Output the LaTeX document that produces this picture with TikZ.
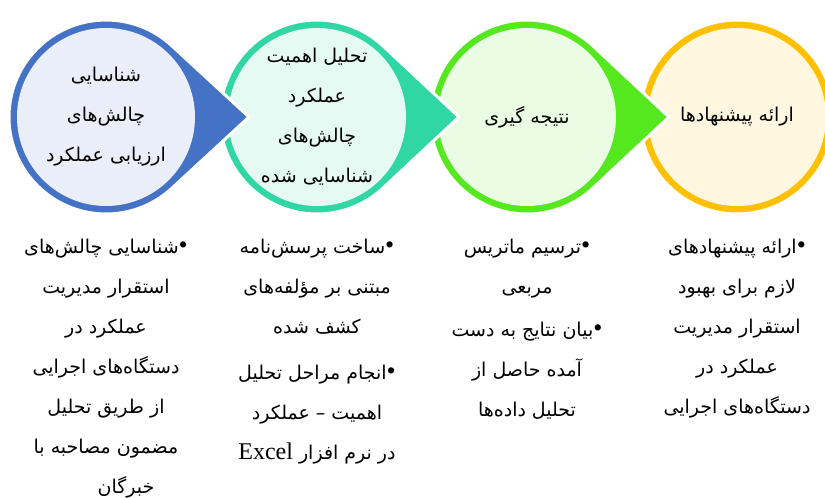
\documentclass[tikz,border=0pt]{standalone}
\usepackage{fontspec}
\usepackage{tikz}
\usetikzlibrary{positioning}
\TeXXeTstate=1
\newfontfamily\arabicfont[Script=Arabic]{DejaVu Sans}
\newfontfamily\latinfont{Liberation Serif}
\newcommand{\farsi}[1]{\beginR #1\endR}
\newcommand{\dotitem}{{\latinfont\fontsize{26}{40}\selectfont •}}
\definecolor{stageblue}{HTML}{4472C4}
\definecolor{stageteal}{HTML}{30D6A4}
\definecolor{stagegreen}{HTML}{55E81F}
\definecolor{stageorange}{HTML}{FFC000}

\begin{document}
\begin{tikzpicture}[x=1pt, y=-1pt,
        stageshape/.style = {fill=#1, draw=white, line width=3pt},
        stagefill/.style = {circle, fill=#1!12, minimum size=178pt, inner sep=0pt,
            font=\arabicfont\fontsize{19}{40}\selectfont, align=center},
        bullettext/.style = {font=\arabicfont\fontsize{19}{40}\selectfont, align=center,
            inner sep=0pt, anchor=north}]
        \useasboundingbox (0,0) rectangle (825,498);
        % Centres of the four stages
        \coordinate (c4) at (737,117);
        \coordinate[left=210pt of c4] (c3);
        \coordinate[left=210pt of c3] (c2);
        \coordinate[left=211pt of c2] (c1);
        % Stages, drawn from right to left so each tip lies on the next circle
        \path[stageshape=stageorange] (c4) circle[radius=97];
        \node[stagefill=stageorange] (s4) at (c4) {\farsi{ارائه پیشنهادها}};
        \path[stageshape=stagegreen] ([shift={(46.8:97)}]c3) arc[start angle=46.8, end angle=313.2, radius=97] -- ([xshift=142pt]c3) -- cycle;
        \node[stagefill=stagegreen] (s3) at (c3) {\farsi{نتیجه گیری}};
        \path[stageshape=stageteal] ([shift={(46.8:97)}]c2) arc[start angle=46.8, end angle=313.2, radius=97] -- ([xshift=142pt]c2) -- cycle;
        \node[stagefill=stageteal] (s2) at (c2) {\farsi{تحلیل اهمیت}\\ \farsi{عملکرد}\\ \farsi{چالش^^^^200cهای}\\ \farsi{شناسایی شده}};
        \path[stageshape=stageblue] ([shift={(46.8:97)}]c1) arc[start angle=46.8, end angle=313.2, radius=97] -- ([xshift=143pt]c1) -- cycle;
        \node[stagefill=stageblue] (s1) at (c1) {\farsi{شناسایی}\\ \farsi{چالش^^^^200cهای}\\ \farsi{ارزیابی عملکرد}};
        % Bullet lists under the stages
        \node[bullettext, below=33pt of s1] (t1) {\farsi{\dotitem شناسایی چالش^^^^200cهای}\\
            \farsi{استقرار مدیریت}\\ \farsi{عملکرد در}\\ \farsi{دستگاه^^^^200cهای اجرایی}\\
            \farsi{از طریق تحلیل}\\ \farsi{مضمون مصاحبه با}\\ \farsi{خبرگان\hspace*{40pt}}};
        \node[bullettext, below=33pt of s2] (t2) {\farsi{\dotitem ساخت پرسش^^^^200cنامه}\\
            \farsi{مبتنی بر مؤلفه^^^^200cهای}\\ \farsi{کشف شده}\\[6pt] \farsi{\dotitem انجام مراحل تحلیل}\\
            \farsi{اهمیت – عملکرد}\\ \farsi{در نرم افزار \beginL{\latinfont\fontsize{24}{40}\selectfont Excel}\endL}};
        \node[bullettext, below=33pt of s3] (t3) {\farsi{\dotitem ترسیم ماتریس}\\
            \farsi{مربعی}\\[3pt] \farsi{\dotitem بیان نتایج به دست}\\ \farsi{آمده حاصل از}\\ \farsi{تحلیل داده^^^^200cها}};
        \node[bullettext, below=33pt of s4] (t4) {\farsi{\dotitem ارائه پیشنهادهای}\\
            \farsi{لازم برای بهبود}\\ \farsi{استقرار مدیریت}\\ \farsi{عملکرد در}\\ \farsi{دستگاه^^^^200cهای اجرایی}};
\end{tikzpicture}
\end{document}
